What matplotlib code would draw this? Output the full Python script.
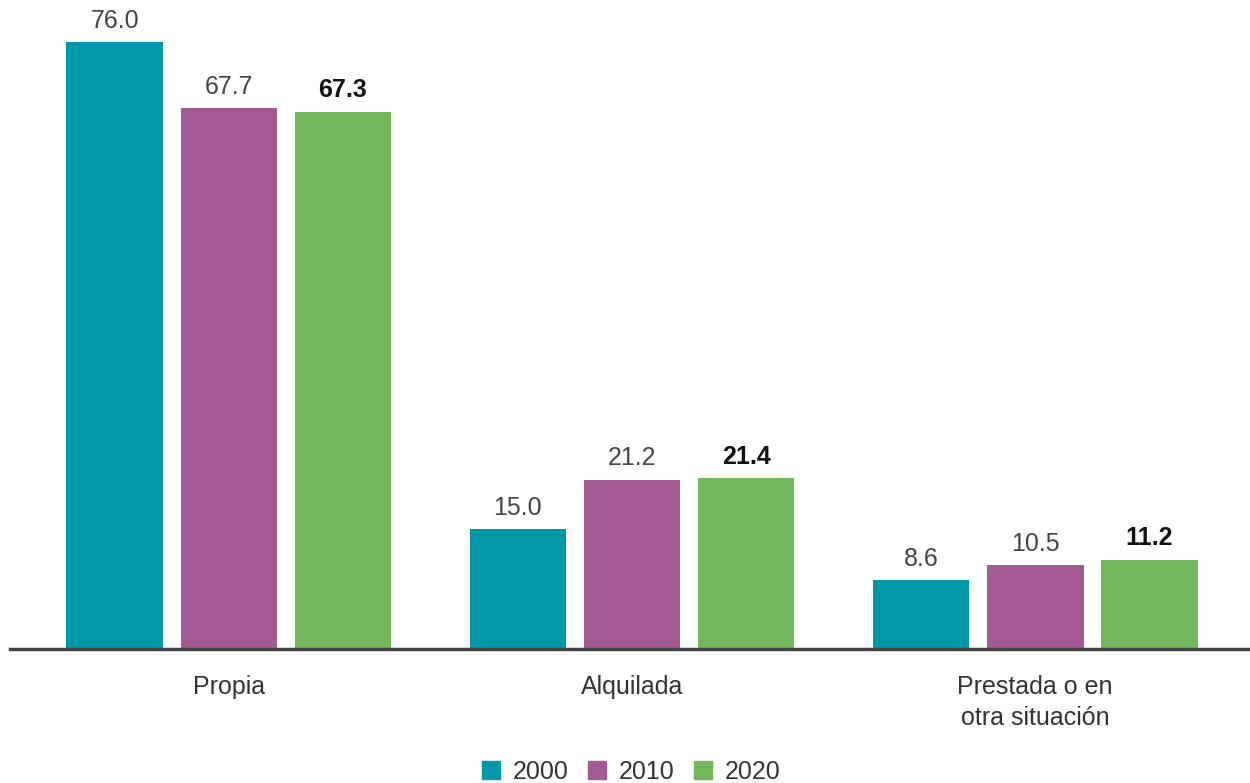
import numpy as np
import matplotlib.pyplot as plt
from matplotlib.patches import Patch

plt.rcParams['font.family'] = ['Liberation Sans', 'DejaVu Sans']

categories = ["Propia", "Alquilada", "Prestada o en\notra situación"]
years = ["2000", "2010", "2020"]
v2000 = [76.0, 15.0, 8.6]
v2010 = [67.7, 21.2, 10.5]
v2020 = [67.3, 21.4, 11.2]
colors = ["#0097A9", "#A35A93", "#72B75C"]

fig = plt.figure(figsize=(12.5, 7.83), dpi=100)
ax = fig.add_axes([0.008, 0.171, 0.992, 0.816])

x = np.arange(len(categories))
width = 0.24
step = 0.283
series = [v2000, v2010, v2020]
for i, (vals, c) in enumerate(zip(series, colors)):
    bars = ax.bar(x + (i - 1) * step, vals, width, color=c)
    for b, v in zip(bars, vals):
        bold = i == 2
        ax.text(b.get_x() + b.get_width() / 2, v + 1.2, f"{v:.1f}",
                ha="center", va="bottom", fontsize=18,
                color="#111111" if bold else "#444444",
                fontweight="bold" if bold else "normal")

ax.set_xlim(-0.543, 2.533)
ax.set_ylim(0, 80)
ax.set_yticks([])
ax.set_xticks(x)
ax.set_xticklabels(categories, fontsize=18, color="#333333", linespacing=1.35, va="top")
ax.tick_params(axis="x", length=0, pad=19)
for s in ["top", "right", "left"]:
    ax.spines[s].set_visible(False)
ax.spines["bottom"].set_color("#444444")
ax.spines["bottom"].set_linewidth(2.5)

handles = [Patch(color=c, label=y) for c, y in zip(colors, years)]
fig.legend(handles=handles, loc="lower center", bbox_to_anchor=(0.505, -0.03), ncol=3,
           frameon=False, fontsize=18, handlelength=0.72, handleheight=0.72,
           handletextpad=0.5, columnspacing=0.8, labelcolor="#333333")

fig.savefig("out.png", dpi=100)
